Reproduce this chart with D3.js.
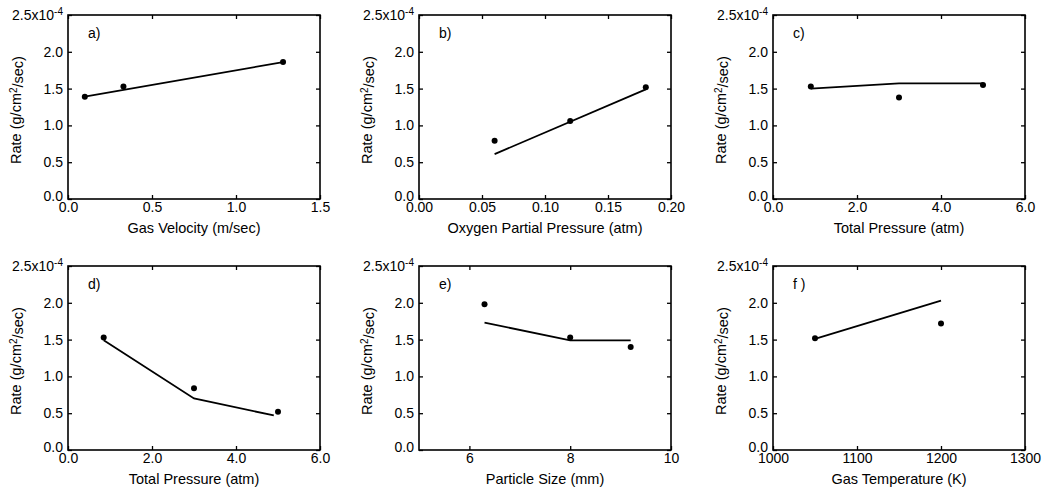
<!doctype html>
<html>
<head>
<meta charset="UTF-8">
<script src="https://cdn.jsdelivr.net/npm/d3@7"></script>
<style>
  body { margin: 0; background: #fff; }
  svg text { font-family: "Liberation Sans", Arial, sans-serif; fill: #000; }
</style>
</head>
<body>
<svg id="chart"></svg>
<script>
// panel data, rate in units of 1e-4 g/cm2/sec
var panelLabels = ["a)", "b)", "c)", "d)", "e)", "f )"];
var xTitles = ["Gas Velocity (m/sec)", "Oxygen Partial Pressure (atm)", "Total Pressure (atm)",
               "Total Pressure (atm)", "Particle Size (mm)", "Gas Temperature (K)"];
var xDomains = [[0, 1.5], [0, 0.2], [0, 6], [0, 6], [5, 10], [1000, 1300]];
var xTicks = [[0, 0.5, 1.0, 1.5], [0, 0.05, 0.10, 0.15, 0.20], [0, 2, 4, 6],
              [0, 2, 4, 6], [6, 8, 10], [1000, 1100, 1200, 1300]];
var xFormats = [".1f", ".2f", ".1f", ".1f", "d", "d"];
var yTicks = [0, 0.5, 1.0, 1.5, 2.0, 2.5];

var ptsX = [[0.1, 0.33, 1.28], [0.06, 0.12, 0.18], [0.9, 3.0, 5.0],
            [0.85, 3.0, 5.0], [6.3, 8.0, 9.2], [1050, 1200]];
var ptsY = [[1.39, 1.53, 1.86], [0.79, 1.06, 1.52], [1.53, 1.38, 1.55],
            [1.53, 0.84, 0.52], [1.98, 1.53, 1.40], [1.52, 1.72]];
var lineX = [[0.1, 1.28], [0.06, 0.18], [0.9, 3.0, 5.0],
             [0.85, 3.0, 4.9], [6.3, 8.0, 9.2], [1050, 1200]];
var lineY = [[1.39, 1.86], [0.61, 1.49], [1.50, 1.57, 1.57],
             [1.49, 0.70, 0.47], [1.73, 1.49, 1.49], [1.51, 2.03]];

var width = 1049, height = 495;
var colLeft = [68, 419, 773];
var rowTop = [15, 266];
var pw = 252, ph = 184;

var svg = d3.select("#chart").attr("width", width).attr("height", height);

function drawPanel(i) {
    var g = svg.append("g")
        .attr("transform", "translate(" + colLeft[i % 3] + "," + rowTop[Math.floor(i / 3)] + ")");

    var x = d3.scaleLinear().domain(xDomains[i]).range([0, pw]);
    var y = d3.scaleLinear().domain([0, 2.5]).range([ph, 0]);

    // axes with inward ticks
    var yAx = g.append("g").call(d3.axisLeft(y).tickValues(yTicks).tickFormat(d3.format(".1f"))
        .tickSize(-4).tickSizeOuter(0).tickPadding(5));
    g.append("g").attr("transform", "translate(" + pw + ",0)")
        .call(d3.axisRight(y).tickValues(yTicks).tickFormat("").tickSize(-4).tickSizeOuter(0));
    g.append("g").attr("transform", "translate(0," + ph + ")")
        .call(d3.axisBottom(x).tickValues(xTicks[i]).tickFormat(d3.format(xFormats[i]))
        .tickSize(-4).tickSizeOuter(0).tickPadding(3));
    g.append("g")
        .call(d3.axisTop(x).tickValues(xTicks[i]).tickFormat("").tickSize(-4).tickSizeOuter(0));

    g.selectAll(".domain").remove();
    g.selectAll(".tick line").attr("stroke", "#000").attr("stroke-width", 1.3);
    g.selectAll(".tick text").style("font-size", "14px").attr("fill", "#000");

    // exponent on top label
    yAx.selectAll(".tick text").filter(function(d) { return d === 2.5; })
        .text("2.5x10")
        .append("tspan").attr("dy", "-0.5em").style("font-size", "10px").text("-4");
    yAx.selectAll(".tick text").filter(function(d) { return d === 0; })
        .attr("dy", "0.1em");

    g.append("rect").attr("width", pw).attr("height", ph)
        .attr("fill", "none").attr("stroke", "#000").attr("stroke-width", 1.6);

    var line = d3.line().x(function(d) { return x(d[0]); }).y(function(d) { return y(d[1]); });
    g.append("path")
        .datum(lineX[i].map(function(v, k) { return [v, lineY[i][k]]; }))
        .attr("d", line).attr("fill", "none").attr("stroke", "#000").attr("stroke-width", 1.8);

    g.selectAll("circle.pt")
        .data(ptsX[i].map(function(v, k) { return [v, ptsY[i][k]]; }))
        .enter().append("circle").attr("class", "pt")
        .attr("cx", function(d) { return x(d[0]); })
        .attr("cy", function(d) { return y(d[1]); })
        .attr("r", 3).attr("fill", "#000");

    g.append("text").attr("x", 20).attr("y", 23).style("font-size", "14px").text(panelLabels[i]);

    g.append("text").attr("x", pw / 2).attr("y", ph + 34).attr("text-anchor", "middle")
        .style("font-size", "14.5px").text(xTitles[i]);

    var yl = g.append("text")
        .attr("transform", "translate(-47," + (ph / 2 + 3) + ") rotate(-90)")
        .attr("text-anchor", "middle").style("font-size", "14.5px");
    yl.append("tspan").text("Rate (g/cm");
    yl.append("tspan").attr("dy", "-0.45em").style("font-size", "10px").text("2");
    yl.append("tspan").attr("dy", "0.45em").text("/sec)");
}

for (var i = 0; i < 6; i++) {
    drawPanel(i);
}
</script>
</body>
</html>
